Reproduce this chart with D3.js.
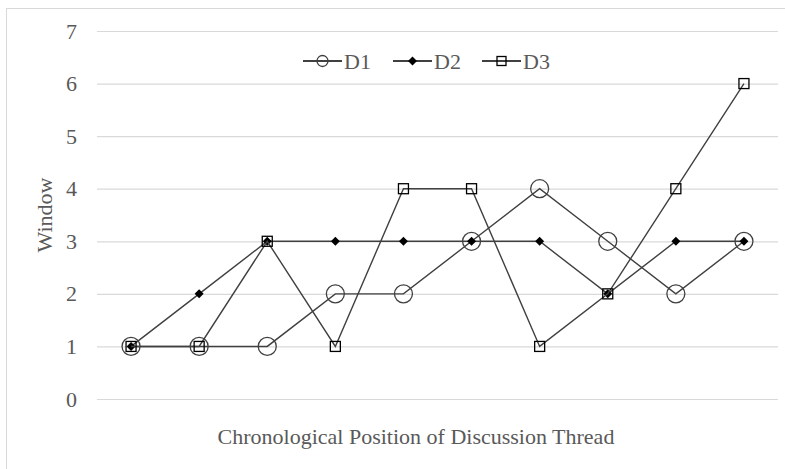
<!DOCTYPE html>
<html>
<head>
<meta charset="utf-8">
<script src="https://cdn.jsdelivr.net/npm/d3@7"></script>
<style>
  body { margin: 0; background: #fff; }
  svg { display: block; }
  text { font-family: "Liberation Serif", "Times New Roman", serif; fill: #595959; }
</style>
</head>
<body>
<div id="chart"></div>
<script>
// thread positions 1..10
const positions = [1, 2, 3, 4, 5, 6, 7, 8, 9, 10];
const d1 = [1, 1, 1, 2, 2, 3, 4, 3, 2, 3];
const d2 = [1, 2, 3, 3, 3, 3, 3, 2, 3, 3];
const d3v = [1, 1, 3, 1, 4, 4, 1, 2, 4, 6];
const yTicks = [0, 1, 2, 3, 4, 5, 6, 7];
const seriesNames = ["D1", "D2", "D3"];

const width = 785, height = 469;
const margin = { left: 97, right: 7, top: 31, bottom: 70 };

const svg = d3.select("#chart")
    .append("svg")
    .attr("width", width)
    .attr("height", height);

// chart frame (only top/left edges fall inside the picture)
svg.append("rect")
    .attr("x", 6.5).attr("y", 8.5)
    .attr("width", width + 20).attr("height", height + 20)
    .attr("fill", "none")
    .attr("stroke", "#d9d9d9");

const x = d3.scaleBand()
    .domain(positions)
    .range([margin.left, width - margin.right])
    .padding(0);

const y = d3.scaleLinear()
    .domain([0, 7])
    .range([height - margin.bottom, margin.top]);

// gridlines
svg.append("g")
    .attr("transform", `translate(${margin.left},0)`)
    .call(d3.axisLeft(y).tickValues(yTicks).tickSize(-(width - margin.right - margin.left)).tickFormat(""))
    .call(g => g.select(".domain").remove())
    .call(g => g.selectAll("line").attr("stroke", "#d9d9d9").attr("stroke-width", 1.2));

// y tick labels
svg.append("g")
    .attr("transform", `translate(${margin.left - 20},0)`)
    .call(d3.axisLeft(y).tickValues(yTicks).tickSize(0).tickPadding(0).tickFormat(d3.format("d")))
    .call(g => g.select(".domain").remove())
    .call(g => g.attr("font-family", null))
    .call(g => g.selectAll("text")
        .attr("font-size", 22)
        .attr("fill", "#595959"));

// axis titles
svg.append("text")
    .attr("transform", `translate(52,${(margin.top + height - margin.bottom) / 2}) rotate(-90)`)
    .attr("text-anchor", "middle")
    .attr("font-size", 22)
    .text("Window");

svg.append("text")
    .attr("x", 416)
    .attr("y", 444)
    .attr("text-anchor", "middle")
    .attr("font-size", 22)
    .text("Chronological Position of Discussion Thread");

const lineColor = "#404040";
const cx = (d, i) => x(positions[i]) + x.bandwidth() / 2;

const line = d3.line()
    .x((d, i) => cx(d, i))
    .y(d => y(d));

function drawMarker(g, type, px, py, big) {
    if (type === "circle") {
        g.append("circle")
            .attr("cx", px).attr("cy", py)
            .attr("r", big ? 9 : 5.5)
            .attr("fill", "none")
            .attr("stroke", lineColor)
            .attr("stroke-width", 1.3);
    } else if (type === "diamond") {
        const s = 4.5;
        g.append("path")
            .attr("d", `M${px},${py - s}L${px + s},${py}L${px},${py + s}L${px - s},${py}Z`)
            .attr("fill", "#000");
    } else {
        const s = big ? 5 : 4.5;
        g.append("rect")
            .attr("x", px - s).attr("y", py - s)
            .attr("width", 2 * s).attr("height", 2 * s)
            .attr("fill", "none")
            .attr("stroke", "#000")
            .attr("stroke-width", 1.3);
    }
}

const series = [
    { name: "D1", values: d1, marker: "circle" },
    { name: "D2", values: d2, marker: "diamond" },
    { name: "D3", values: d3v, marker: "square" }
];

series.forEach(s => {
    const g = svg.append("g");
    g.append("path")
        .attr("d", line(s.values))
        .attr("fill", "none")
        .attr("stroke", lineColor)
        .attr("stroke-width", 1.4);
    s.values.forEach((v, i) => drawMarker(g, s.marker, cx(v, i), y(v), true));
});

// legend
const legendX = [303, 393, 482];
const legendY = 61;
series.forEach((s, i) => {
    const g = svg.append("g");
    g.append("line")
        .attr("x1", legendX[i]).attr("x2", legendX[i] + 39)
        .attr("y1", legendY).attr("y2", legendY)
        .attr("stroke", "#000")
        .attr("stroke-width", 1.4);
    drawMarker(g, s.marker, legendX[i] + 19.5, legendY, false);
    g.append("text")
        .attr("x", legendX[i] + 41)
        .attr("y", legendY + 8)
        .attr("font-size", 22)
        .text(seriesNames[i]);
});
</script>
</body>
</html>
